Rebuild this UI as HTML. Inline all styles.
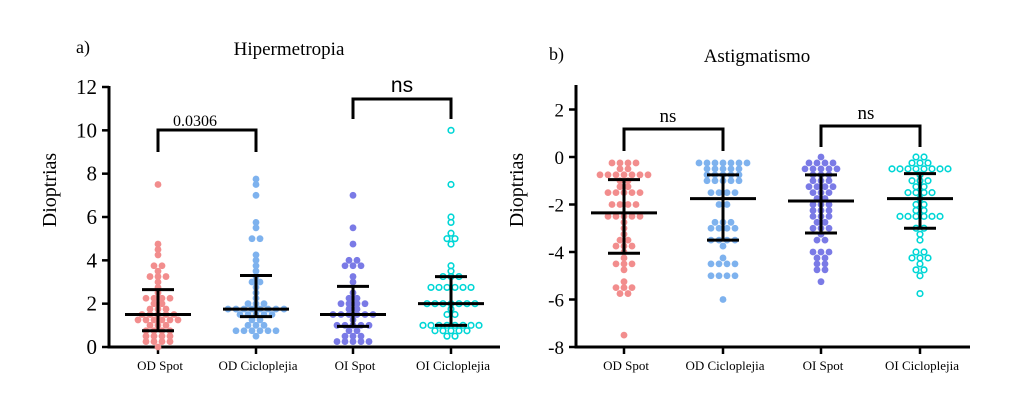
<!DOCTYPE html>
<html><head><meta charset="utf-8"><style>
html,body{margin:0;padding:0;background:#fff;}
svg{display:block;font-family:"Liberation Serif",serif;}
</style></head><body>
<svg id="chart" width="1035" height="416" viewBox="0 0 1035 416"></svg>
<script>
const categories = ["OD Spot","OD Cicloplejia","OI Spot","OI Cicloplejia"];
const hipODS = [7.5,4.75,4.5,4.25,3.75,3.75,3.5,3.25,3.25,3.25,3,2.75,2.5,2.25,2.25,2.25,2.25,2,2,1.75,1.75,1.75,1.5,1.5,1.5,1.5,1.5,1.25,1.25,1.25,1.25,1.25,1.25,1,1,1,0.75,0.75,0.75,0.75,0.5,0.5,0.5,0.5,0.25,0.25,0.25,0.25,0];
const hipODC = [7.75,7.5,7,5.75,5.5,5,5,4.25,4,3.75,3.5,3.25,3,3,2.75,2.5,2.25,2,2,2,1.75,1.75,1.75,1.75,1.75,1.75,1.75,1.75,1.5,1.5,1.5,1.5,1.5,1.25,1.25,1,1,1,0.75,0.75,0.75,0.75,0.75,0.75,0.5];
const hipOIS = [7,5.5,4.75,4,4,3.75,3.75,3.75,3.25,3,2.5,2.25,2.25,2,2,2,2,1.75,1.75,1.5,1.5,1.5,1.5,1.5,1.5,1.25,1,1,1,1,1,0.75,0.75,0.5,0.5,0.5,0.25,0.25,0.25,0.25,0.25];
const hipOIC = [10,7.5,6,5.75,5.25,5,5,4.75,3.75,3.5,3.25,3.25,3.25,2.75,2.75,2.75,2.75,2.75,2.75,2,2,2,2,2,2,2,1.75,1.5,1.5,1,1,1,1,1,1,1,1,0.75,0.75,0.75,0.75,0.75,0.5,0.5];
const hipMed = [1.5,1.75,1.5,2];
const hipLo = [0.75,1.4,0.95,1];
const hipHi = [2.65,3.3,2.8,3.25];
const astODS = [-0.25,-0.25,-0.25,-0.25,-0.5,-0.5,-0.75,-0.75,-0.75,-0.75,-0.75,-0.75,-0.75,-1,-1,-1.25,-1.25,-1.5,-1.5,-1.5,-1.5,-1.5,-2,-2,-2,-2,-2.5,-2.5,-2.5,-2.5,-2.5,-2.75,-3,-3.25,-3.5,-3.5,-3.75,-3.75,-3.75,-4,-4.25,-4.5,-4.5,-4.5,-4.75,-5.25,-5.5,-5.5,-5.5,-5.75,-5.75,-7.5];
const astODC = [-0.25,-0.25,-0.25,-0.25,-0.25,-0.25,-0.25,-0.5,-0.5,-0.5,-0.5,-0.5,-0.75,-0.75,-0.75,-0.75,-0.75,-1,-1,-1,-1,-1,-1.5,-1.5,-1.5,-1.5,-2,-2,-2.75,-2.75,-2.75,-3,-3,-3,-3,-3.5,-3.5,-3.5,-3.5,-3.75,-4.25,-4.5,-4.5,-4.5,-4.5,-5,-5,-5,-5,-6];
const astOIS = [0,-0.25,-0.25,-0.25,-0.25,-0.5,-0.5,-0.5,-0.5,-0.5,-0.75,-0.75,-0.75,-1,-1,-1,-1.25,-1.25,-1.25,-1.25,-1.5,-1.5,-1.5,-1.75,-1.75,-2,-2,-2,-2.25,-2.25,-2.25,-2.5,-2.5,-2.5,-2.75,-2.75,-3,-3,-3,-3.25,-3.5,-3.5,-4,-4,-4,-4.25,-4.25,-4.5,-4.5,-4.75,-4.75,-5.25];
const astOIC = [0,0,-0.25,-0.25,-0.25,-0.5,-0.5,-0.5,-0.5,-0.5,-0.5,-0.5,-0.5,-0.75,-1,-1,-1,-1.25,-1.25,-1.5,-1.5,-1.5,-1.5,-1.75,-2,-2,-2.25,-2.25,-2.5,-2.5,-2.5,-2.5,-2.5,-2.5,-3,-3,-3.25,-3.5,-4,-4,-4.25,-4.25,-4.25,-4.5,-4.75,-4.75,-5,-5.75];
const astMed = [-2.35,-1.75,-1.85,-1.75];
const astLo = [-4.05,-3.5,-3.2,-3];
const astHi = [-0.95,-0.75,-0.75,-0.7];
const hipTicks = [0,2,4,6,8,10,12];
const astTicks = [2,0,-2,-4,-6,-8];
const colors = ["#f28d8d","#7eb2ee","#7a7ae6","#00d6d6"];

const NS="http://www.w3.org/2000/svg";
const svg=document.getElementById('chart');
function mk(tag,attrs,parent,text){const e=document.createElementNS(NS,tag);for(const k in attrs)e.setAttribute(k,attrs[k]);if(text!==undefined)e.textContent=text;(parent||svg).appendChild(e);return e;}

function panel(cfg){
  const g=mk('g',{});
  
  
  const y=v=>cfg.y0+(v-cfg.v0)*(cfg.y1-cfg.y0)/(cfg.v1-cfg.v0);
  const x=i=>cfg.xs[i];
  // axes
  const ya=mk('line',{x1:cfg.ax,y1:cfg.axTop,x2:cfg.ax,y2:cfg.axBot,stroke:'#000','stroke-width':3},g);
  
  const xa=mk('line',{x1:cfg.ax-1.5,y1:cfg.axBot,x2:cfg.axRight,y2:cfg.axBot,stroke:'#000','stroke-width':3},g);
  
  cfg.ticks.forEach(t=>{
    mk('line',{x1:cfg.ax-7,x2:cfg.ax,y1:y(t),y2:y(t),stroke:'#000','stroke-width':2.5},g);
    const tl=mk('text',{x:cfg.ax-12,y:y(t)+7,'text-anchor':'end','font-size':cfg.tickFs},g,String(t).replace('-','-'));
    
  });
  categories.forEach((c,i)=>{
    mk('line',{x1:x(i),x2:x(i),y1:cfg.axBot,y2:cfg.axBot+7,stroke:'#000','stroke-width':2.5},g);
    const cl=mk('text',{x:x(i)+2,y:cfg.axBot+23,'text-anchor':'middle','font-size':13},g,c);
    
  });
  // points
  cfg.series.forEach((vals,i)=>{
    const counts={};vals.forEach(v=>counts[v]=(counts[v]||0)+1);
    const idx={};
    vals.forEach(v=>{
      const n=counts[v];const k=idx[v]=(idx[v]===undefined?0:idx[v]+1);
      const cx=x(i)+(k-(n-1)/2)*8;
      const c=i===3?mk('circle',{cx:cx,cy:y(v),r:2.8,fill:'none',stroke:colors[i],'stroke-width':1.6},g)
                   :mk('circle',{cx:cx,cy:y(v),r:3.4,fill:colors[i]},g);
      
      
    });
    // stats
    const cx=x(i);
    const ml=mk('line',{x1:cx-33,x2:cx+33,y1:y(cfg.med[i]),y2:y(cfg.med[i]),stroke:'#000','stroke-width':3},g);
    
    const el=mk('line',{x1:cx,x2:cx,y1:y(cfg.lo[i]),y2:y(cfg.hi[i]),stroke:'#000','stroke-width':3},g);
    
    mk('line',{x1:cx-16,x2:cx+16,y1:y(cfg.lo[i]),y2:y(cfg.lo[i]),stroke:'#000','stroke-width':3},g);
    mk('line',{x1:cx-16,x2:cx+16,y1:y(cfg.hi[i]),y2:y(cfg.hi[i]),stroke:'#000','stroke-width':3},g);
  });
  // brackets
  cfg.brackets.forEach(b=>{
    const p=mk('path',{d:`M${x(b.a)},${b.bot} V${b.top} H${x(b.b)} V${b.bot}`,fill:'none',stroke:'#000','stroke-width':3},g);
    
    const t=mk('text',{x:b.tx,y:b.ty,'text-anchor':'middle','font-size':b.fs,'font-family':b.ff||'Liberation Serif, serif'},g,b.label);
    
  });
  const yl=mk('text',{x:0,y:0,transform:`translate(${cfg.ylx},${cfg.yly}) rotate(-90)`,'text-anchor':'middle','font-size':20},g,'Dioptrias');
  
  const tt=mk('text',{x:cfg.tx,y:cfg.ty,'text-anchor':'middle','font-size':19},g,cfg.title);
  
  const pl=mk('text',{x:cfg.lx,y:cfg.ty-2,'font-size':18},g,cfg.letter);
  
}

panel({name:'hipermetropia-panel',v0:0,v1:12,y0:347,y1:87,ax:109,axTop:86,axBot:347,axRight:500,
  xs:[158,256,353,451],ticks:hipTicks,tickFs:21,series:[hipODS,hipODC,hipOIS,hipOIC],med:hipMed,lo:hipLo,hi:hipHi,
  brackets:[{a:0,b:1,top:130,bot:152,label:'0.0306',tx:195,ty:126,fs:16},
            {a:2,b:3,top:99,bot:119,label:'ns',tx:402,ty:92,fs:21,ff:'Liberation Sans, sans-serif'}],
  ylx:56,yly:190,title:'Hipermetropia',tx:289,ty:55,letter:'a)',lx:76});
panel({name:'astigmatismo-panel',v0:0,v1:-8,y0:157,y1:347,ax:576,axTop:85,axBot:347,axRight:970,
  xs:[624,723,821,920],ticks:astTicks,tickFs:19,series:[astODS,astODC,astOIS,astOIC],med:astMed,lo:astLo,hi:astHi,
  brackets:[{a:0,b:1,top:129,bot:151,label:'ns',tx:668,ty:122,fs:19},
            {a:2,b:3,top:126,bot:147,label:'ns',tx:866,ty:119,fs:19}],
  ylx:523,yly:190,title:'Astigmatismo',tx:757,ty:62,letter:'b)',lx:549});
</script>
</body></html>
